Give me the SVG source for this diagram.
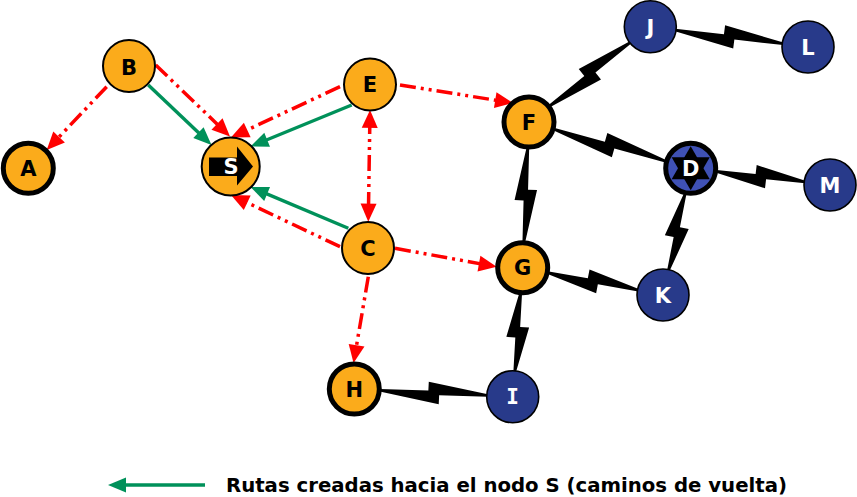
<svg xmlns="http://www.w3.org/2000/svg" width="857" height="497" viewBox="0 0 857 497">
<style>
.red{fill:none;stroke:#ff0000;stroke-width:3.5;stroke-dasharray:16,5,3,5,3,5;marker-end:url(#hr)}
.grn{fill:none;stroke:#00915a;stroke-width:3.4;marker-end:url(#hg)}
.bolt{fill:#000}
.on{fill:#fbab1b;stroke:#000;stroke-width:2}
.ont{fill:#fbab1b;stroke:#000;stroke-width:5}
.bn{fill:#283a8a;stroke:#000;stroke-width:1.6}
.lb{font-family:"DejaVu Sans","Verdana",sans-serif;font-weight:bold;font-size:21px;text-anchor:middle;fill:#000}
.lw{fill:#fff}
.leg{font-family:"DejaVu Sans","Verdana",sans-serif;font-weight:bold;font-size:19px;fill:#000}
</style>
<defs>
<marker id="hr" viewBox="-15 -15 30 30" markerWidth="30" markerHeight="30" markerUnits="userSpaceOnUse" refX="0" refY="0" orient="auto-start-reverse" overflow="visible">
<path d="M-10,-8 L8,0 L-10,8 z" fill="#ff0000"/>
</marker>
<marker id="hg" viewBox="-15 -15 30 30" markerWidth="30" markerHeight="30" markerUnits="userSpaceOnUse" refX="0" refY="0" orient="auto" overflow="visible">
<path d="M-10,-7.5 L8,0 L-10,7.5 z" fill="#00915a"/>
</marker>
</defs>
<rect width="857" height="497" fill="#fff"/>
<g id="connectors">
<g id="bolts">
<polygon class="bolt" transform="translate(529,122) rotate(-38.1)" points="25.5,-1.3 71.85,-2 71.85,-11 129.2,-1.3 129.2,1.3 82.85,2 82.85,11 25.5,1.3"/>
<polygon class="bolt" transform="translate(650.3,26.8) rotate(7.3)" points="25,-1.3 74,-2 74,-11 134,-1.3 134,1.3 85,2 85,11 25,1.3"/>
<polygon class="bolt" transform="translate(529,122) rotate(16)" points="25.5,-1.3 78.35,-2 78.35,-11 142.2,-1.3 142.2,1.3 89.35,2 89.35,11 25.5,1.3"/>
<polygon class="bolt" transform="translate(690.7,168.3) rotate(6.8)" points="26,-1.3 65.15,-2 65.15,-11 115.3,-1.3 115.3,1.3 76.15,2 76.15,11 26,1.3"/>
<polygon class="bolt" transform="translate(529,122) rotate(92.5)" points="25.5,-1.3 67.65,-2 67.65,-11 120.8,-1.3 120.8,1.3 78.65,2 78.65,11 25.5,1.3"/>
<polygon class="bolt" transform="translate(522.7,267.7) rotate(11)" points="25,-1.3 65.95,-2 65.95,-11 117.9,-1.3 117.9,1.3 76.95,2 76.95,11 25,1.3"/>
<polygon class="bolt" transform="translate(690.7,168.3) rotate(102.3)" points="26,-1.3 59.85,-2 59.85,-11 104.7,-1.3 104.7,1.3 70.85,2 70.85,11 26,1.3"/>
<polygon class="bolt" transform="translate(522.7,267.7) rotate(94.4)" points="25,-1.3 59.2,-2 59.2,-11 104.4,-1.3 104.4,1.3 70.2,2 70.2,11 25,1.3"/>
<polygon class="bolt" transform="translate(354.3,389) rotate(2.8)" points="25.5,-1.3 74.05,-2 74.05,-11 133.6,-1.3 133.6,1.3 85.05,2 85.05,11 25.5,1.3"/>
</g>
<g id="routes">
<path class="red" d="M106.7,86.7 L52.2,144.2"/>
<path class="red" d="M155.7,65 L224.2,130.9"/>
<path class="red" d="M340,86.7 L238.2,134.1"/>
<path class="red" d="M369.9,118 L368.4,213.7" style="marker-start:url(#hr)"/>
<path class="red" d="M340,246.7 L238.2,198.4"/>
<path class="red" d="M400,85 L505.1,101.7"/>
<path class="red" d="M395,248.3 L488.8,265.3"/>
<path class="red" d="M368.3,276.7 L354.9,355.1"/>
<path class="grn" d="M148.3,85 L205.7,139.5"/>
<path class="grn" d="M351.7,105 L257.9,143.5"/>
<path class="grn" d="M348.3,228.3 L257.9,190.1"/>
</g>
</g>
<g id="node-A"><circle class="ont" cx="28.3" cy="168.3" r="25"/><text class="lb" x="28.3" y="176">A</text></g>
<g id="node-B"><circle class="on" cx="129" cy="66" r="26"/><text class="lb" x="129" y="74.5">B</text></g>
<g id="node-S"><circle class="on" cx="230.7" cy="166.5" r="29"/><path d="M209,157.5 L237,157.5 L237,146.5 L253,166.5 L237,185.5 L237,176 L209,176 z" fill="#000"/><text class="lb lw" x="231" y="174.3">S</text></g>
<g id="node-E"><circle class="on" cx="370" cy="84.5" r="26"/><text class="lb" x="370" y="92.3">E</text></g>
<g id="node-C"><circle class="on" cx="368" cy="248" r="26"/><text class="lb" x="368" y="255.7">C</text></g>
<g id="node-H"><circle class="ont" cx="354.3" cy="389" r="25"/><text class="lb" x="354.3" y="396.7">H</text></g>
<g id="node-F"><circle class="ont" cx="529" cy="122" r="25"/><text class="lb" x="529" y="129.7">F</text></g>
<g id="node-G"><circle class="ont" cx="522.7" cy="267.7" r="25"/><text class="lb" x="522.7" y="275.4">G</text></g>
<g id="node-J"><circle class="bn" cx="650.3" cy="26.8" r="26"/><text class="lb lw" x="650.3" y="34.5">J</text></g>
<g id="node-L"><circle class="bn" cx="808" cy="47" r="26"/><text class="lb lw" x="808" y="54.7">L</text></g>
<g id="node-D"><circle cx="690.7" cy="168.3" r="25" fill="#3f51b5" stroke="#000" stroke-width="5"/><polygon points="690.7,146.3 709.75,179.3 671.65,179.3" fill="#000"/><polygon points="690.7,190.3 709.75,157.3 671.65,157.3" fill="#000"/><text class="lb lw" x="690.7" y="176">D</text></g>
<g id="node-M"><circle class="bn" cx="830" cy="185" r="26"/><text class="lb lw" x="830" y="192.7">M</text></g>
<g id="node-K"><circle class="bn" cx="663" cy="295" r="26"/><text class="lb lw" x="663" y="302.7">K</text></g>
<g id="node-I"><circle class="bn" cx="512.7" cy="396.7" r="26"/><text class="lb lw" x="512.7" y="404.4" style="font-family:'DejaVu Sans Mono',monospace">I</text></g>
<g id="legend">
<path class="grn" d="M205,485 L116,485"/>
<text class="leg" x="226" y="491.5" textLength="561" lengthAdjust="spacingAndGlyphs">Rutas creadas hacia el nodo S (caminos de vuelta)</text>
</g>
</svg>
